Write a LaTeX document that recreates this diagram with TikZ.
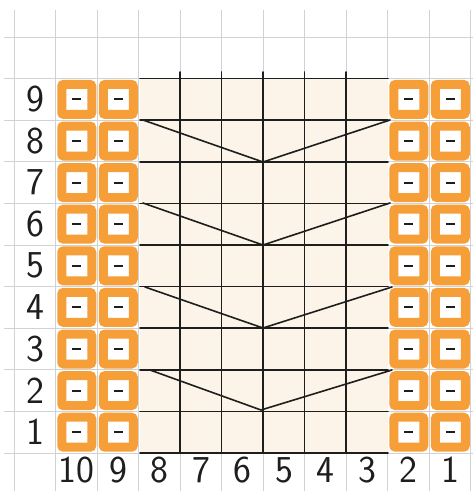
\documentclass[tikz,border=0pt]{standalone}
\usepackage{fontspec}
\definecolor{paper}{RGB}{255,255,255}
\definecolor{gridgrey}{RGB}{210,210,210}
\definecolor{wash}{RGB}{252,244,233}
\definecolor{pencil}{RGB}{246,158,55}
\definecolor{ink}{RGB}{30,30,30}
\begin{document}
\begin{tikzpicture}[x=1pt,y=-1pt,
  gridline/.style={gridgrey,line width=1pt},
  inkline/.style={ink,line width=1.6pt,line cap=round},
  purlbox/.style={draw=pencil,line width=9pt,minimum width=30pt,minimum height=30pt,fill=white,rounded corners=2pt,inner sep=0pt},
  dashmark/.style={ink,line width=2pt},
  lab/.style={font=\sffamily\fontsize{38}{38}\selectfont,text=ink,inner sep=0pt}]
\useasboundingbox (0,0) rectangle (473,491);
\fill[paper] (0,0) rectangle (473,491);
% graph paper
\foreach \k in {0,...,11} \draw[gridline] (14+41.5*\k,10) -- (14+41.5*\k,491);
\foreach \k in {0,...,11} \draw[gridline] (4,37+41.6*\k) -- (473,37+41.6*\k);
% chart wash
\fill[wash] (140,78) rectangle (388,452);
% horizontal chart lines
\foreach \k in {0,...,9} \draw[inkline] (140,78.6+41.6*\k) -- (388,78.6+41.6*\k);
% vertical chart lines
\foreach \k in {4,...,8} \draw[inkline] (14+41.5*\k,72) -- (14+41.5*\k,452);
% purl boxes
\foreach \r in {1,...,9} {
  \foreach \c/\xc in {10/76.75,9/118.25,2/408.75,1/450.25} {
    \node[purlbox] (b\c r\r) at (\xc,432.2-41.6*\r+41.6) {};
    \draw[dashmark] ([xshift=-4.5pt]b\c r\r.center) -- ([xshift=4.5pt]b\c r\r.center);
  }
}
% decrease V shapes
\coordinate (l1) at (143,120); \coordinate (m1) at (263,162); \coordinate (r1) at (390,120);
\coordinate (l2) at (143,203); \coordinate (m2) at (263,245); \coordinate (r2) at (390,203);
\coordinate (l3) at (145,287); \coordinate (m3) at (263,328); \coordinate (r3) at (392,287);
\coordinate (l4) at (150,370); \coordinate (m4) at (261,410); \coordinate (r4) at (392,370);
\foreach \i in {1,...,4} \draw[inkline] (l\i) -- (m\i) -- (r\i);
% row labels
\foreach \r in {1,...,9} \node[lab] (row\r) at (35,432.2-41.6*\r+41.6) {\r};
% column labels
\foreach \c in {1,...,10} \node[lab] (col\c) at (450.25-41.5*\c+41.5,470) {\c};
\end{tikzpicture}
\end{document}
